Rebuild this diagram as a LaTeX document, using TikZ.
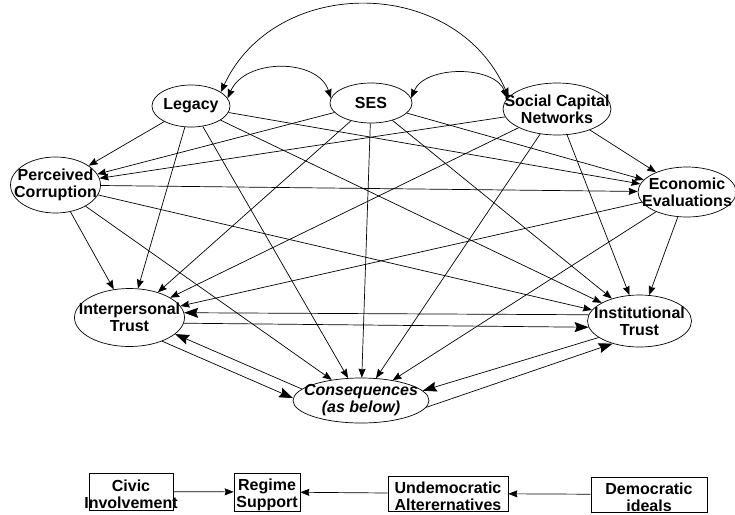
\documentclass[tikz,border=0pt]{standalone}
\usepackage{fontspec}
\setmainfont{Liberation Sans}
\usetikzlibrary{shapes.geometric,arrows.meta}
\begin{document}
\begin{tikzpicture}[x=1pt,y=-1pt,
  var/.style args={#1/#2}{draw, ellipse, inner sep=0pt, minimum width=#1pt, minimum height=#2pt},
  box/.style args={#1/#2}{draw, rectangle, inner sep=0pt, minimum width=#1pt, minimum height=#2pt},
  txt/.style={font=\bfseries\fontsize{16}{17}\selectfont, align=center, inner sep=0pt},
  itxt/.style={txt, font=\bfseries\itshape\fontsize{16}{17}\selectfont},
  tip/.style={Stealth[length=9pt,width=7pt,inset=1pt]},
  arr/.style={-{Stealth[length=9pt,width=7pt,inset=1pt]}},
  darr/.style={{Stealth[length=9pt,width=7pt,inset=1pt]}-{Stealth[length=9pt,width=7pt,inset=1pt]}},
  bigarr/.style={-{Stealth[length=14pt,width=10pt,inset=2pt]}},
  line width=0.7pt]
\useasboundingbox (0,0) rectangle (735,514);

% variables
\node[var=78/42, label={[txt]center:Legacy}] (leg) at (191,106) {};
\node[var=82/40, label={[txt]center:SES}] (ses) at (371,103) {};
\node[var=108/52, label={[txt]center:Social Capital\\Networks}] (scn) at (557,109) {};
\node[var=90/56, label={[txt]center:Perceived\\Corruption}] (pc) at (55.5,185) {};
\node[var=98/50, label={[txt]center:Economic\\Evaluations}] (ee) at (687,192) {};
\node[var=110/58, label={[txt]center:Interpersonal\\Trust}] (ip) at (129.5,317.5) {};
\node[var=104/52, label={[txt]center:Institutional\\Trust}] (it) at (639.5,321) {};
\node[var=136/45, label={[itxt]center:Consequences\\(as below)}] (con) at (361,400.5) {};

% boxes
\node[box=84/37, label={[txt,yshift=-3pt]center:Civic\\Involvement}] (civ) at (131,491.5) {};
\node[box=66/38, label={[txt,yshift=-3pt]center:Regime\\Support}] (reg) at (267,492) {};
\node[box=120/35, label={[txt,yshift=-3pt]center:Undemocratic\\Alterernatives}] (und) at (448,493.5) {};
\node[box=116/35, label={[txt,yshift=-3pt]center:Democratic\\ideals}] (dem) at (649,494.5) {};

% correlations on top
\draw[darr] (leg.25) .. controls (275,-25) and (455,-25) .. (scn.166);
\draw[darr] (leg.12) .. controls (245,58) and (318,58) .. (ses.173);
\draw[darr] (ses.7) .. controls (425,65) and (495,65) .. (scn.168);

% to perceived corruption and economic evaluations
\foreach \s in {leg,ses,scn}{
  \draw[arr] (\s) -- (pc);
  \draw[arr] (\s) -- (ee);
}
\draw[arr] (pc) -- (ee);

% to trust and consequences
\foreach \s in {leg,ses,scn,pc,ee}{
  \draw[arr] (\s) -- (ip);
  \draw[arr] (\s) -- (it);
  \draw[arr] (\s) -- (con);
}

% reciprocal paths
\draw[bigarr] (it.173) -- (ip.5);
\draw[bigarr] (ip.-6) -- (it.-173);
\draw[bigarr] (con.169) -- (ip.-20);
\draw[bigarr] (ip.-36) -- (con.178);
\draw[bigarr] (it.202) -- (con.9);
\draw[bigarr] (con.-6) -- (it.220);

% bottom row
\draw[arr] (civ) -- (reg);
\draw[arr] (und) -- (reg);
\draw[arr] (dem) -- (und);
\end{tikzpicture}
\end{document}
